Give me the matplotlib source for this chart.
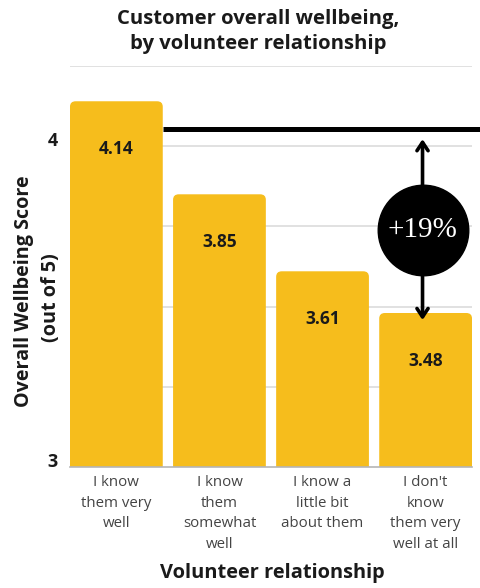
import matplotlib
matplotlib.use("Agg")
import matplotlib.pyplot as plt
from matplotlib.patches import FancyBboxPatch

categories = ["I know\nthem very\nwell",
              "I know\nthem\nsomewhat\nwell",
              "I know a\nlittle bit\nabout them",
              "I don't\nknow\nthem very\nwell at all"]
scores = [4.14, 3.85, 3.61, 3.48]
y_ticks = [3, 4]
grid_levels = [3.25, 3.5, 3.75, 4.0, 4.25]
gap_label = "+19%"

YELLOW = "#F6BD1C"
TEXT = "#1a1a1a"
plt.rcParams["font.family"] = ["Open Sans", "DejaVu Sans"]

fig = plt.figure(figsize=(4.81, 5.88), dpi=100)
ax = fig.add_axes([0.1455, 0.2058, 0.8358, 0.682])
ax.set_ylim(3, 4.25)
ax.set_xlim(-0.45, 3.45)

# gridlines
for g in grid_levels:
    ax.axhline(g, color="#dcdcdc", lw=1.2, zorder=0)

# bars (base placed below the axis floor so only the top corners show rounded)
base = 2.9
bars = ax.bar(range(len(scores)), [v - base for v in scores], width=0.9,
              bottom=base, color=YELLOW, zorder=2)
for b in bars:
    x0, y0, w, h = b.get_x(), b.get_y(), b.get_width(), b.get_height()
    b.set_visible(False)
    patch = FancyBboxPatch((x0, y0), w, h,
                           boxstyle="round,pad=0,rounding_size=0.055",
                           mutation_aspect=0.31, fc=YELLOW, ec="none",
                           zorder=2, clip_on=True)
    ax.add_patch(patch)

for i, v in enumerate(scores):
    ax.text(i, v - 0.15, f"{v:.2f}", ha="center", va="center",
            fontsize=12.5, fontweight="bold", color=TEXT, zorder=3)

# reference line at the top group's level
ref_level = 4.053
ax.plot([0.45, 3.56], [ref_level, ref_level], color="black", lw=3.6,
        solid_capstyle="butt", clip_on=False, zorder=4)

# gap arrow with percentage badge
ax.annotate("", xy=(2.97, 3.458), xytext=(2.97, 4.022),
            arrowprops=dict(arrowstyle="<->,head_length=0.6,head_width=0.4",
                            color="black", lw=2.6, shrinkA=0, shrinkB=0),
            zorder=5)
ax.scatter([2.97], [3.74], s=4250, color="black", zorder=6)
ax.text(2.97, 3.738, gap_label, ha="center", va="center", color="white",
        fontsize=21, family=["Liberation Serif"], zorder=7)

# axes styling
for s in ["top", "right", "left"]:
    ax.spines[s].set_visible(False)
ax.spines["bottom"].set_color("#b5b5b5")
ax.spines["bottom"].set_linewidth(1.2)
ax.spines["bottom"].set_zorder(3)

ax.set_yticks(y_ticks)
ax.set_yticklabels([str(t) for t in y_ticks], fontsize=13, fontweight="bold",
                   color=TEXT)
ax.tick_params(axis="y", length=0, pad=9)
for lab in ax.get_yticklabels():
    lab.set_verticalalignment("baseline")

ax.set_xticks(range(len(categories)))
ax.set_xticklabels(categories, fontsize=10.8, color="#444444", linespacing=1.5,
                   va="top")
ax.tick_params(axis="x", length=0, pad=6)

fig.text(0.05, 0.505, "Overall Wellbeing Score", rotation=90, ha="center",
         va="center", fontsize=14.2, fontweight="bold", color=TEXT)
fig.text(0.106, 0.494, "(out of 5)", rotation=90, ha="center",
         va="center", fontsize=14.2, fontweight="bold", color=TEXT)

fig.text(0.567, 0.025, "Volunteer relationship", ha="center", va="center",
         fontsize=14.4, fontweight="bold", color=TEXT)
fig.text(0.536, 0.946, "Customer overall wellbeing,\nby volunteer relationship",
         ha="center", va="center", fontsize=14.6, fontweight="bold",
         color=TEXT, linespacing=1.35)

fig.savefig("out.png", dpi=100)
